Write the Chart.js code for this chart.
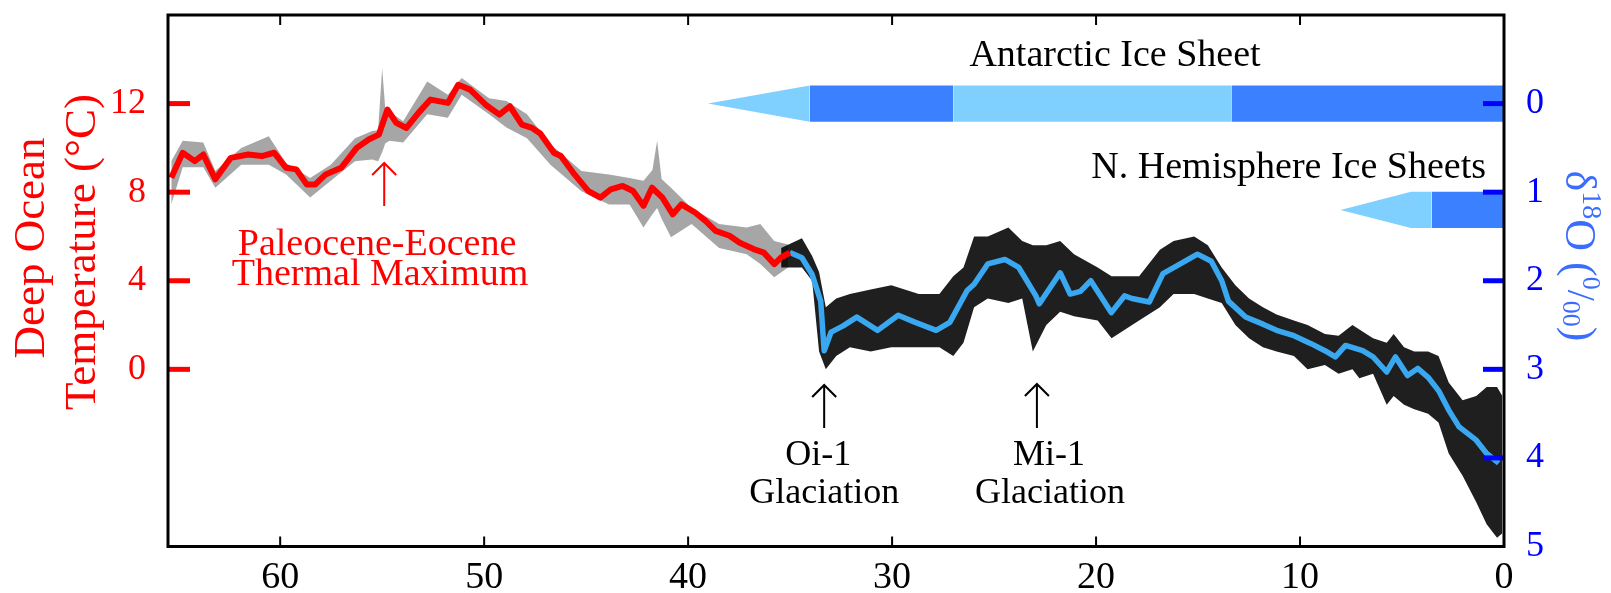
<!DOCTYPE html>
<html lang="en">
<head>
  <meta charset="UTF-8">
  <title>Deep Ocean Temperature and Ice Sheets, 65 Myr</title>
  <script src="https://cdn.jsdelivr.net/npm/chart.js"></script>
  <style>
    body { margin: 0; background: #fff; }
    canvas { display: block; }
  </style>
</head>
<body>
  <canvas id="climateChart" width="1611" height="593"></canvas>

  <script>
    // Ages in Myr before present, x axis runs backwards (65 -> 0)
    const xTicks = [60, 50, 40, 30, 20, 10, 0];
    const tempTicks = [0, 4, 8, 12];
    const d18Ticks = [0, 1, 2, 3, 4, 5];

    // Red curve: deep ocean temperature (°C), ice-free part
    const tempAge = [65.34, 64.78, 64.19, 63.77, 63.18, 62.42, 61.57, 60.90, 60.30, 59.71, 59.21, 58.70, 58.28, 57.77,
      57.01, 56.25, 55.66, 55.16, 54.74, 54.31, 53.81, 53.22, 52.63, 51.78, 51.27, 50.69, 49.93, 49.25, 48.74, 48.15,
      47.65, 47.25, 46.58, 46.24, 45.57, 44.89, 44.30, 43.79, 43.21, 42.70, 42.19, 41.77, 41.26, 40.75, 40.33, 39.66,
      39.15, 38.65, 37.97, 37.47, 36.79, 36.29, 35.77, 35.44, 35.01];
    const tempC = [8.65, 9.78, 9.40, 9.70, 8.58, 9.55, 9.70, 9.63, 9.78, 9.10, 9.03, 8.35, 8.35, 8.80,
      9.10, 10.0, 10.38, 10.60, 11.73, 11.13, 10.90, 11.58, 12.18, 12.03, 12.85, 12.63, 11.95, 11.50, 11.88, 11.05,
      10.90, 10.65, 9.78, 9.63, 8.80, 8.05, 7.75, 8.13, 8.28, 8.05, 7.38, 8.20, 7.75, 7.00, 7.45, 7.08,
      6.70, 6.25, 6.03, 5.72, 5.43, 5.27, 4.75, 5.05, 5.27];

    // Blue curve: benthic d18O (per mil), from the Eocene-Oligocene boundary on
    const d18Age = [35.01, 34.42, 33.92, 33.50, 33.33, 32.99, 32.40, 31.73, 30.71, 29.70, 28.86, 27.84, 27.17, 26.32,
      25.98, 25.31, 24.47, 23.79, 22.95, 22.78, 21.76, 21.27, 20.77, 20.26, 19.25, 18.60, 18.24, 17.39, 16.72, 15.87,
      15.03, 14.35, 13.84, 13.51, 12.67, 11.82, 11.15, 10.30, 9.46, 8.78, 8.27, 7.77, 6.93, 6.42, 5.75, 5.32, 4.73,
      4.23, 3.72, 3.21, 2.71, 2.20, 1.36, 0.85, 0.26];
    const d18O = [1.68, 1.74, 1.93, 2.23, 2.79, 2.58, 2.51, 2.41, 2.56, 2.39, 2.47, 2.56, 2.47, 2.11,
      2.04, 1.81, 1.76, 1.85, 2.17, 2.26, 1.91, 2.15, 2.12, 2.00, 2.36, 2.17, 2.20, 2.24, 1.92, 1.81,
      1.70, 1.78, 2.00, 2.23, 2.41, 2.49, 2.56, 2.62, 2.71, 2.79, 2.86, 2.73, 2.79, 2.86, 3.03, 2.86, 3.07,
      2.99, 3.09, 3.24, 3.46, 3.65, 3.80, 3.95, 4.06];

    // Spread of the raw d18O measurements (upper / lower edge, per mil)
    const cloudAgeEarly = [65.34, 64.78, 63.77, 63.18, 61.91, 60.56, 59.71, 58.53, 57.52, 56.33, 55.49, 55.20, 55.00,
      54.85, 54.64, 53.97, 52.79, 51.78, 51.10, 49.76, 48.91, 47.90, 46.75, 45.23, 43.88, 42.87, 42.19, 41.75, 41.52,
      41.30, 40.84, 39.83, 38.48, 37.13, 36.46, 35.78, 35.10];
    const cloudTopEarly = [0.65, 0.42, 0.44, 0.76, 0.50, 0.37, 0.67, 0.84, 0.69, 0.39, 0.31, 0.30, -0.40,
      0.05, 0.09, 0.20, -0.25, -0.10, -0.29, -0.06, -0.03, 0.12, 0.46, 0.76, 0.80, 0.84, 0.87, 0.75, 0.42,
      0.85, 0.95, 1.18, 1.36, 1.40, 1.36, 1.55, 1.59];
    const cloudBotEarly = [1.14, 0.72, 0.72, 0.95, 0.69, 0.69, 0.80, 1.06, 0.87, 0.65, 0.63, 0.65, 0.55,
      0.45, 0.42, 0.44, 0.12, 0.16, -0.10, 0.12, 0.27, 0.39, 0.69, 0.99, 1.14, 1.14, 1.40, 1.25, 1.18,
      1.30, 1.51, 1.36, 1.63, 1.70, 1.81, 1.96, 1.85];

    const cloudAgeLate = [35.44, 34.42, 33.92, 33.58, 33.25, 32.74, 32.07, 31.05, 30.04, 28.69, 27.68, 27.00, 26.50,
      25.98, 25.31, 24.30, 23.62, 23.10, 22.44, 21.76, 21.08, 19.92, 19.24, 17.89, 16.87, 16.20, 15.19, 14.52, 13.84,
      13.17, 12.50, 11.82, 11.15, 10.30, 9.63, 8.78, 8.11, 7.43, 7.09, 6.42, 5.75, 5.41, 4.90, 4.40, 3.72, 3.21,
      2.71, 2.03, 1.36, 0.85, 0.34, 0.08];
    const cloudTopLate = [1.63, 1.52, 1.72, 1.90, 2.30, 2.20, 2.15, 2.10, 2.05, 2.15, 2.15, 1.95, 1.85,
      1.50, 1.50, 1.40, 1.55, 1.60, 1.60, 1.55, 1.70, 1.85, 1.95, 1.95, 1.65, 1.55, 1.50, 1.60, 1.85,
      2.05, 2.20, 2.30, 2.38, 2.45, 2.50, 2.60, 2.62, 2.50, 2.55, 2.65, 2.70, 2.60, 2.75, 2.80, 2.80, 2.85,
      3.15, 3.35, 3.30, 3.20, 3.20, 3.30];
    const cloudBotLate = [1.85, 1.85, 2.00, 2.80, 3.00, 2.85, 2.75, 2.80, 2.75, 2.75, 2.75, 2.85, 2.70,
      2.30, 2.20, 2.25, 2.20, 2.80, 2.50, 2.35, 2.40, 2.45, 2.65, 2.45, 2.30, 2.15, 2.15, 2.20, 2.25,
      2.50, 2.65, 2.75, 2.80, 2.85, 3.00, 2.95, 3.05, 3.00, 3.10, 3.05, 3.40, 3.30, 3.40, 3.45, 3.50, 3.60,
      3.95, 4.20, 4.50, 4.75, 4.90, 4.85];

    // Ice sheet bars: segment edges in Myr (tip first), and shade of each segment
    const antarcticEdges = [39.03, 34.04, 27.0, 13.34, 0];
    const antarcticShade = ['light', 'dark', 'light', 'dark'];
    const nhEdges = [8.02, 4.56, 3.55, 0];
    const nhShade = ['light', 'light', 'dark'];

    const SERIF = '"Liberation Serif", "Times New Roman", serif';
    const RED = '#ff0000';
    const BLUE = '#0000ff';
    const ICE = { light: '#80d0ff', dark: '#3a80ff' };

    const pts = (xs, ys) => xs.map((x, i) => ({ x: x, y: ys[i] }));

    // two edge lines with the fill between them
    function band(xs, top, bot, color, axis, order) {
      const edge = { yAxisID: axis, borderColor: 'transparent', borderWidth: 0, pointRadius: 0, order: order };
      return [
        Object.assign({ data: pts(xs, top), fill: false }, edge),
        Object.assign({ data: pts(xs, bot), fill: '-1', backgroundColor: color }, edge)
      ];
    }

    // one ice bar centred on a d18O level; the first segment tapers to a point
    function iceBar(edges, shades, centre) {
      const h = 0.205;
      let sets = [];
      for (let i = 0; i < shades.length; i++) {
        const xs = [edges[i], edges[i + 1]];
        const top = i === 0 ? [centre, centre - h] : [centre - h, centre - h];
        const bot = i === 0 ? [centre, centre + h] : [centre + h, centre + h];
        sets = sets.concat(band(xs, top, bot, ICE[shades[i]], 'yD', 5));
      }
      return sets;
    }

    const datasets = [].concat(
      iceBar(antarcticEdges, antarcticShade, 0),
      iceBar(nhEdges, nhShade, 1.2),
      band(cloudAgeEarly, cloudTopEarly, cloudBotEarly, 'rgba(0,0,0,0.35)', 'yD', 4),
      band(cloudAgeLate, cloudTopLate, cloudBotLate, 'rgba(0,0,0,0.88)', 'yD', 4),
      [{
        data: pts(tempAge, tempC), yAxisID: 'yT', borderColor: RED, borderWidth: 6,
        pointRadius: 0, fill: false, order: 1, borderJoinStyle: 'round'
      }, {
        data: pts(d18Age, d18O), yAxisID: 'yD', borderColor: '#3aa8f0', borderWidth: 5.5,
        pointRadius: 0, fill: false, order: 1, borderJoinStyle: 'round'
      }]
    );

    // keep the plot box fixed: no extra room for half tick labels
    const fixBox = (w, h) => s => {
      if (w !== null) s.width = w;
      if (h !== null) s.height = h;
      s.paddingTop = 0; s.paddingBottom = 0; s.paddingLeft = 0; s.paddingRight = 0;
    };

    // frame, inward ticks, axis titles and the text notes
    const decor = {
      id: 'decor',
      afterDraw(chart) {
        const ctx = chart.ctx;
        const a = chart.chartArea;
        const sx = chart.scales.x, sT = chart.scales.yT, sD = chart.scales.yD;
        ctx.save();

        // age ticks on top and bottom edges
        ctx.strokeStyle = '#000';
        ctx.lineWidth = 2;
        xTicks.slice(0, -1).forEach(v => {
          const x = sx.getPixelForValue(v);
          ctx.beginPath();
          ctx.moveTo(x, a.bottom); ctx.lineTo(x, a.bottom - 10);
          ctx.moveTo(x, a.top); ctx.lineTo(x, a.top + 10);
          ctx.stroke();
        });

        // temperature ticks (left) and d18O ticks (right)
        ctx.lineWidth = 5;
        ctx.strokeStyle = RED;
        tempTicks.forEach(v => {
          const y = sT.getPixelForValue(v);
          ctx.beginPath(); ctx.moveTo(a.left, y); ctx.lineTo(a.left + 22, y); ctx.stroke();
        });
        ctx.strokeStyle = BLUE;
        d18Ticks.slice(0, -1).forEach(v => {
          const y = sD.getPixelForValue(v);
          ctx.beginPath(); ctx.moveTo(a.right, y); ctx.lineTo(a.right - 21, y); ctx.stroke();
        });

        // frame
        ctx.strokeStyle = '#000';
        ctx.lineWidth = 3;
        ctx.strokeRect(a.left, a.top, a.right - a.left, a.bottom - a.top);

        // left axis title
        ctx.fillStyle = RED;
        ctx.font = '45px ' + SERIF;
        ctx.textAlign = 'center';
        ctx.textBaseline = 'middle';
        ctx.save();
        ctx.translate(32, 248);
        ctx.rotate(-Math.PI / 2);
        ctx.fillText('Deep Ocean', 0, 0);
        ctx.restore();
        ctx.save();
        ctx.translate(83, 252);
        ctx.rotate(-Math.PI / 2);
        ctx.fillText('Temperature (°C)', 0, 0);
        ctx.restore();

        // right axis title: δ18O (0/00) with raised and lowered parts
        const parts = [
          { t: 'δ', size: 44, dy: 0 },
          { t: '18', size: 28, dy: -12 },
          { t: 'O', size: 44, dy: 0 },
          { t: ' (', size: 44, dy: 0 },
          { t: '0', size: 26, dy: -12 },
          { t: '/', size: 40, dy: 0 },
          { t: '00', size: 26, dy: 8 },
          { t: ')', size: 44, dy: 0 }
        ];
        ctx.save();
        ctx.fillStyle = '#3a6cff';
        ctx.translate(1578, 256);
        ctx.rotate(Math.PI / 2);
        ctx.textAlign = 'left';
        let total = 0;
        parts.forEach(p => { ctx.font = p.size + 'px ' + SERIF; p.w = ctx.measureText(p.t).width; total += p.w; });
        let px = -total / 2;
        parts.forEach(p => {
          ctx.font = p.size + 'px ' + SERIF;
          ctx.fillText(p.t, px, p.dy);
          px += p.w;
        });
        ctx.restore();

        // notes
        ctx.font = '38px ' + SERIF;
        ctx.textBaseline = 'alphabetic';
        ctx.fillStyle = '#000';
        ctx.textAlign = 'center';
        ctx.fillText('Antarctic Ice Sheet', 1115, 66);
        ctx.textAlign = 'right';
        ctx.fillText('N. Hemisphere Ice Sheets', 1486, 178);

        ctx.textAlign = 'center';
        ctx.font = '36px ' + SERIF;
        ctx.fillText('Oi-1', sx.getPixelForValue(33.33) - 6, 465);
        ctx.fillText('Glaciation', sx.getPixelForValue(33.33), 503);
        ctx.fillText('Mi-1', sx.getPixelForValue(22.9) + 12, 465);
        ctx.fillText('Glaciation', sx.getPixelForValue(22.9) + 13, 503);

        ctx.fillStyle = RED;
        ctx.font = '38px ' + SERIF;
        ctx.fillText('Paleocene-Eocene', 377, 255);
        ctx.fillText('Thermal Maximum', 380, 285);

        // arrows pointing at the events
        const arrow = (age, y0, y1, color) => {
          const x = sx.getPixelForValue(age);
          ctx.strokeStyle = color;
          ctx.lineWidth = 2;
          ctx.beginPath();
          ctx.moveTo(x, y0); ctx.lineTo(x, y1);
          ctx.moveTo(x - 12, y1 + 12); ctx.lineTo(x, y1); ctx.lineTo(x + 12, y1 + 12);
          ctx.stroke();
        };
        arrow(54.9, 206, 163, RED);
        arrow(33.33, 428, 385, '#000');
        arrow(22.9, 428, 384, '#000');

        ctx.restore();
      }
    };

    const ctx = document.getElementById('climateChart').getContext('2d');
    new Chart(ctx, {
      type: 'line',
      data: { datasets: datasets },
      options: {
        responsive: false,
        animation: false,
        layout: { padding: { top: 15, left: 0, right: 0, bottom: 0 } },
        plugins: { legend: { display: false }, tooltip: { enabled: false } },
        scales: {
          x: {
            type: 'linear', min: 0, max: 65.5, reverse: true,
            afterBuildTicks: s => { s.ticks = xTicks.map(v => ({ value: v })); },
            afterFit: fixBox(null, 46.5),
            grid: { display: false }, border: { display: false },
            ticks: { color: '#000', padding: 1, autoSkip: false, maxRotation: 0, font: { family: SERIF, size: 38 } }
          },
          yT: {
            type: 'linear', position: 'left', min: -8, max: 16,
            afterBuildTicks: s => { s.ticks = tempTicks.map(v => ({ value: v })); },
            afterFit: fixBox(168, null),
            grid: { display: false }, border: { display: false },
            ticks: { color: RED, padding: 14, font: { family: SERIF, size: 36 } }
          },
          yD: {
            type: 'linear', position: 'right', min: -1, max: 5, reverse: true,
            afterBuildTicks: s => { s.ticks = d18Ticks.map(v => ({ value: v })); },
            afterFit: fixBox(107, null),
            grid: { display: false }, border: { display: false },
            ticks: { color: BLUE, padding: 14, font: { family: SERIF, size: 36 } }
          }
        }
      },
      plugins: [decor]
    });
  </script>
</body>
</html>
